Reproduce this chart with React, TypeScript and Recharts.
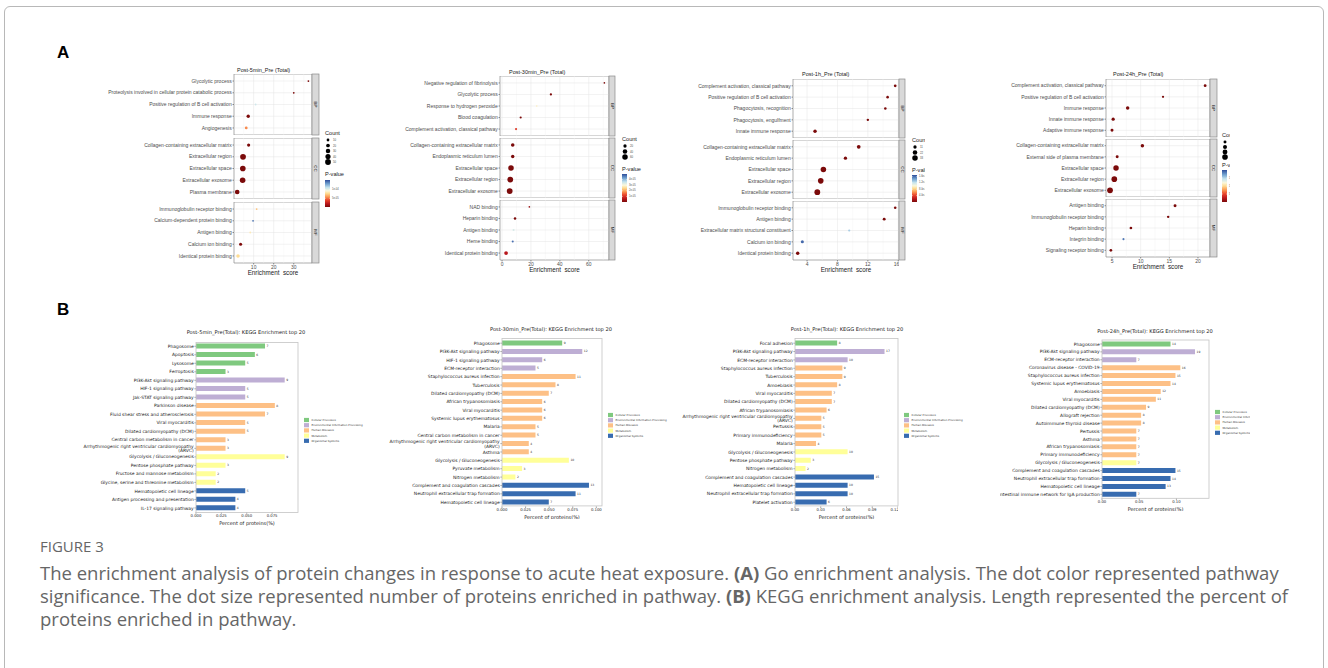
import React from "react";
import {
  ScatterChart,
  Scatter,
  XAxis,
  YAxis,
  ZAxis,
  Cell,
  ReferenceLine,
  ReferenceArea,
  BarChart,
  Bar,
  LabelList,
} from "recharts";

const GO_FONT = '"Liberation Sans", Arial, sans-serif';
const MPL_FONT = '"DejaVu Sans", sans-serif';
const CAPTION_FONT = '"Open Sans", "Noto Sans", sans-serif';

const FACETS = ["BP", "CC", "MF"];

// ---------- GO enrichment (panel A): 5 terms per facet, BP / CC / MF ----------

const go5minTerms = [
  "Glycolytic process",
  "Proteolysis involved in cellular protein catabolic process",
  "Positive regulation of B cell activation",
  "Immune response",
  "Angiogenesis",
  "Collagen-containing extracellular matrix",
  "Extracellular region",
  "Extracellular space",
  "Extracellular exosome",
  "Plasma membrane",
  "Immunoglobulin receptor binding",
  "Calcium-dependent protein binding",
  "Antigen binding",
  "Calcium ion binding",
  "Identical protein binding",
];
const go5minScore = [37.3, 30.0, 11.0, 7.3, 6.3, 7.5, 4.7, 4.6, 4.5, 1.8, 11.5, 9.7, 8.3, 3.5, 2.2];
const go5minCount = [3, 3, 3, 16, 10, 14, 50, 48, 47, 32, 3, 3, 3, 13, 17];
const go5minP = [1e-6, 1e-6, 1.08e-4, 1e-6, 5.5e-5, 1e-7, 1e-7, 1e-7, 1e-7, 1e-7, 7e-5, 1.44e-4, 8.5e-5, 1e-6, 7.8e-5];

const go30minTerms = [
  "Negative regulation of fibrinolysis",
  "Glycolytic process",
  "Response to hydrogen peroxide",
  "Blood coagulation",
  "Complement activation, classical pathway",
  "Collagen-containing extracellular matrix",
  "Endoplasmic reticulum lumen",
  "Extracellular space",
  "Extracellular region",
  "Extracellular exosome",
  "NAD binding",
  "Heparin binding",
  "Antigen binding",
  "Heme binding",
  "Identical protein binding",
];
const go30minScore = [70.8, 33.8, 24.0, 12.9, 9.7, 7.4, 7.4, 6.2, 5.7, 5.3, 18.9, 9.0, 8.0, 7.4, 2.8];
const go30minCount = [3, 8, 3, 7, 7, 24, 22, 62, 65, 66, 3, 11, 6, 6, 26];
const go30minP = [1e-7, 1e-7, 2.8e-5, 1e-7, 1.1e-5, 1e-9, 1e-9, 1e-9, 1e-9, 1e-9, 3e-6, 1e-7, 3.4e-5, 4.7e-5, 6e-6];

const go1hTerms = [
  "Complement activation, classical pathway",
  "Positive regulation of B cell activation",
  "Phagocytosis, recognition",
  "Phagocytosis, engulfment",
  "Innate immune response",
  "Collagen-containing extracellular matrix",
  "Endoplasmic reticulum lumen",
  "Extracellular space",
  "Extracellular region",
  "Extracellular exosome",
  "Immunoglobulin receptor binding",
  "Antigen binding",
  "Extracellular matrix structural constituent",
  "Calcium ion binding",
  "Identical protein binding",
];
const go1hScore = [15.6, 14.6, 14.3, 12.0, 5.05, 10.8, 9.05, 6.15, 5.8, 5.35, 15.6, 14.15, 9.55, 3.38, 2.77];
const go1hCount = [7, 6, 6, 5, 12, 14, 11, 33, 34, 36, 6, 8, 4, 9, 12];
const go1hP = [1e-7, 1e-7, 1e-7, 1e-7, 1e-7, 1e-9, 1e-9, 1e-9, 1e-9, 1e-9, 1e-7, 1e-7, 1.3e-4, 1.62e-4, 1e-7];

const go24hTerms = [
  "Complement activation, classical pathway",
  "Positive regulation of B cell activation",
  "Immune response",
  "Innate immune response",
  "Adaptive immune response",
  "Collagen-containing extracellular matrix",
  "External side of plasma membrane",
  "Extracellular space",
  "Extracellular region",
  "Extracellular exosome",
  "Antigen binding",
  "Immunoglobulin receptor binding",
  "Heparin binding",
  "Integrin binding",
  "Signaling receptor binding",
];
const go24hScore = [21.25, 13.9, 7.73, 5.2, 5.0, 10.3, 5.9, 5.7, 5.4, 4.65, 16.0, 14.8, 8.3, 7.0, 4.8];
const go24hCount = [9, 5, 14, 12, 10, 14, 10, 38, 40, 42, 10, 6, 8, 4, 8];
const go24hP = [1e-7, 1e-7, 1e-7, 1e-7, 1e-7, 1e-9, 1e-9, 1e-9, 1e-9, 1e-9, 1e-7, 1e-7, 1e-7, 1.85e-4, 1e-7];

// ---------- KEGG top 20 (panel B) ----------
// group: 0 Cellular Processes, 1 Environmental Information Processing,
// 2 Human Diseases, 3 Metabolism, 4 Organismal Systems
const GROUP_NAMES = [
  "Cellular Processes",
  "Environmental Information Processing",
  "Human Diseases",
  "Metabolism",
  "Organismal Systems",
];
const GROUP_COLORS = ["#7fc97f", "#beaed4", "#fdc086", "#ffff99", "#386cb0"];

const ARVC = "Arrhythmogenic right ventricular cardiomyopathy\n(ARVC)";

const kegg5minNames = [
  "Phagosome",
  "Apoptosis",
  "Lysosome",
  "Ferroptosis",
  "PI3K-Akt signaling pathway",
  "HIF-1 signaling pathway",
  "Jak-STAT signaling pathway",
  "Parkinson disease",
  "Fluid shear stress and atherosclerosis",
  "Viral myocarditis",
  "Dilated cardiomyopathy (DCM)",
  "Central carbon metabolism in cancer",
  ARVC,
  "Glycolysis / Gluconeogenesis",
  "Pentose phosphate pathway",
  "Fructose and mannose metabolism",
  "Glycine, serine and threonine metabolism",
  "Hematopoietic cell lineage",
  "Antigen processing and presentation",
  "IL-17 signaling pathway",
];
const kegg5minValues = [0.068, 0.058, 0.0485, 0.0291, 0.0874, 0.0485, 0.0485, 0.0777, 0.068, 0.0485, 0.0485, 0.0291, 0.0291, 0.0874, 0.0291, 0.0194, 0.0194, 0.0485, 0.0388, 0.0388];
const kegg5minCounts = [7, 6, 5, 3, 9, 5, 5, 8, 7, 5, 5, 3, 3, 9, 3, 2, 2, 5, 4, 4];
const kegg5minGroups = [0, 0, 0, 0, 1, 1, 1, 2, 2, 2, 2, 2, 2, 3, 3, 3, 3, 4, 4, 4];

const kegg30minNames = [
  "Phagosome",
  "PI3K-Akt signaling pathway",
  "HIF-1 signaling pathway",
  "ECM-receptor interaction",
  "Staphylococcus aureus infection",
  "Tuberculosis",
  "Dilated cardiomyopathy (DCM)",
  "African trypanosomiasis",
  "Viral myocarditis",
  "Systemic lupus erythematosus",
  "Malaria",
  "Central carbon metabolism in cancer",
  ARVC,
  "Asthma",
  "Glycolysis / Gluconeogenesis",
  "Pyruvate metabolism",
  "Nitrogen metabolism",
  "Complement and coagulation cascades",
  "Neutrophil extracellular trap formation",
  "Hematopoietic cell lineage",
];
const kegg30minValues = [0.0638, 0.0851, 0.0426, 0.0355, 0.078, 0.0567, 0.0496, 0.0426, 0.0426, 0.0426, 0.0355, 0.0355, 0.0284, 0.0284, 0.0709, 0.0213, 0.0142, 0.0922, 0.078, 0.0496];
const kegg30minCounts = [9, 12, 6, 5, 11, 8, 7, 6, 6, 6, 5, 5, 4, 4, 10, 3, 2, 13, 11, 7];
const kegg30minGroups = [0, 1, 1, 1, 2, 2, 2, 2, 2, 2, 2, 2, 2, 2, 3, 3, 3, 4, 4, 4];

const kegg1hNames = [
  "Focal adhesion",
  "PI3K-Akt signaling pathway",
  "ECM-receptor interaction",
  "Staphylococcus aureus infection",
  "Tuberculosis",
  "Amoebiasis",
  "Viral myocarditis",
  "Dilated cardiomyopathy (DCM)",
  "African trypanosomiasis",
  ARVC,
  "Pertussis",
  "Primary immunodeficiency",
  "Malaria",
  "Glycolysis / Gluconeogenesis",
  "Pentose phosphate pathway",
  "Nitrogen metabolism",
  "Complement and coagulation cascades",
  "Hematopoietic cell lineage",
  "Neutrophil extracellular trap formation",
  "Platelet activation",
];
const kegg1hValues = [0.0491, 0.1043, 0.0613, 0.0552, 0.0552, 0.0491, 0.0429, 0.0429, 0.0368, 0.0307, 0.0307, 0.0307, 0.0245, 0.0613, 0.0184, 0.0123, 0.092, 0.0613, 0.0613, 0.0368];
const kegg1hCounts = [8, 17, 10, 9, 9, 8, 7, 7, 6, 5, 5, 5, 4, 10, 3, 2, 15, 10, 10, 6];
const kegg1hGroups = [0, 1, 1, 2, 2, 2, 2, 2, 2, 2, 2, 2, 2, 3, 3, 3, 4, 4, 4, 4];

const kegg24hNames = [
  "Phagosome",
  "PI3K-Akt signaling pathway",
  "ECM-receptor interaction",
  "Coronavirus disease - COVID-19",
  "Staphylococcus aureus infection",
  "Systemic lupus erythematosus",
  "Amoebiasis",
  "Viral myocarditis",
  "Dilated cardiomyopathy (DCM)",
  "Allograft rejection",
  "Autoimmune thyroid disease",
  "Pertussis",
  "Asthma",
  "African trypanosomiasis",
  "Primary immunodeficiency",
  "Glycolysis / Gluconeogenesis",
  "Complement and coagulation cascades",
  "Neutrophil extracellular trap formation",
  "Hematopoietic cell lineage",
  "Intestinal immune network for IgA production",
];
const kegg24hValues = [0.0921, 0.125, 0.0461, 0.1053, 0.0987, 0.0921, 0.0789, 0.0724, 0.0592, 0.0526, 0.0526, 0.0461, 0.0461, 0.0461, 0.0461, 0.0461, 0.0987, 0.0921, 0.0855, 0.0461];
const kegg24hCounts = [14, 19, 7, 16, 15, 14, 12, 11, 9, 8, 8, 7, 7, 7, 7, 7, 15, 14, 13, 7];
const kegg24hGroups = [0, 1, 1, 2, 2, 2, 2, 2, 2, 2, 2, 2, 2, 2, 2, 3, 4, 4, 4, 4];

// ---------- colour scale for p-value (low p = dark red, high p = blue) ----------
const P_STOPS: [number, string][] = [
  [0, "#7b0a0a"],
  [0.12, "#b8161c"],
  [0.25, "#e9432b"],
  [0.38, "#fb9b55"],
  [0.5, "#fedc92"],
  [0.6, "#fbf8dc"],
  [0.72, "#c4e3ee"],
  [0.86, "#6f9fce"],
  [1, "#2e4d9a"],
];

function hexToRgb(h: string) {
  return [1, 3, 5].map((i) => parseInt(h.slice(i, i + 2), 16));
}

function pColor(p: number, pMax: number) {
  const t = Math.max(0, Math.min(1, p / pMax));
  for (let i = 1; i < P_STOPS.length; i++) {
    const [t1, c1] = P_STOPS[i];
    if (t <= t1) {
      const [t0, c0] = P_STOPS[i - 1];
      const k = (t - t0) / (t1 - t0);
      const a = hexToRgb(c0);
      const b = hexToRgb(c1);
      const m = a.map((v, j) => Math.round(v + (b[j] - v) * k));
      return `rgb(${m[0]},${m[1]},${m[2]})`;
    }
  }
  return P_STOPS[P_STOPS.length - 1][1];
}

const SIZE_RANGE: [number, number] = [1, 26];

type GoCfg = {
  id: string;
  title: string;
  terms: string[];
  score: number[];
  count: number[];
  pval: number[];
  clipX: number;
  clipW: number;
  plotLeft: number;
  plotRight: number;
  stripW: number;
  tops: number[];
  facetH: number;
  domain: [number, number];
  ticks: number[];
  titleX: number;
  titleY: number;
  legendX: number;
  countY: number;
  countStep: number;
  countKeys: number[];
  countMax: number;
  pY: number;
  gradTop: number;
  gradH: number;
  pMax: number;
  pTicks: number[];
  pLabels: string[];
};

const GO_TOP = 60;
const GO_H = 225;

const goPanels: GoCfg[] = [
  {
    id: "a1", title: "Post-5min_Pre (Total)",
    terms: go5minTerms, score: go5minScore, count: go5minCount, pval: go5minP,
    clipX: 90, clipW: 310, plotLeft: 234, plotRight: 312, stripW: 7,
    tops: [74, 138, 202], facetH: 61, domain: [0.2, 39.1], ticks: [10, 20, 30],
    titleX: 237, titleY: 72, legendX: 325, countY: 133, countStep: 5.5, countKeys: [10, 20, 30, 40, 50], countMax: 50,
    pY: 174, gradTop: 180, gradH: 27, pMax: 1.55e-4, pTicks: [1e-4, 5e-5], pLabels: ["1e-04", "5e-05"],
  },
  {
    id: "a2", title: "Post-30min_Pre (Total)",
    terms: go30minTerms, score: go30minScore, count: go30minCount, pval: go30minP,
    clipX: 400, clipW: 265, plotLeft: 500, plotRight: 609, stripW: 6,
    tops: [76, 138, 200], facetH: 60, domain: [-1.4, 74], ticks: [0, 20, 40, 60],
    titleX: 509, titleY: 74, legendX: 622, countY: 139, countStep: 5.5, countKeys: [20, 40, 60], countMax: 66,
    pY: 169, gradTop: 174, gradH: 28, pMax: 5e-5, pTicks: [4e-5, 3e-5, 2e-5, 1e-5],
    pLabels: ["4e-05", "3e-05", "2e-05", "1e-05"],
  },
  {
    id: "a3", title: "Post-1h_Pre (Total)",
    terms: go1hTerms, score: go1hScore, count: go1hCount, pval: go1hP,
    clipX: 670, clipW: 255, plotLeft: 793, plotRight: 899, stripW: 6,
    tops: [79, 140, 201], facetH: 59, domain: [2.15, 16.1], ticks: [4, 8, 12, 16],
    titleX: 802, titleY: 76, legendX: 912, countY: 140, countStep: 5.5, countKeys: [11, 22, 33], countMax: 36,
    pY: 170, gradTop: 175, gradH: 27, pMax: 1.7e-4, pTicks: [1.6e-4, 1.2e-4, 8e-5, 4e-5],
    pLabels: ["1.6e-04", "1.2e-04", "8.0e-05", "4.0e-05"],
  },
  {
    id: "a4", title: "Post-24h_Pre (Total)",
    terms: go24hTerms, score: go24hScore, count: go24hCount, pval: go24hP,
    clipX: 975, clipW: 255, plotLeft: 1106, plotRight: 1210, stripW: 7,
    tops: [79, 139, 199], facetH: 58, domain: [3.95, 22.1], ticks: [5, 10, 15, 20],
    titleX: 1113, titleY: 76, legendX: 1222, countY: 135, countStep: 5, countKeys: [10, 20, 30, 40], countMax: 42,
    pY: 165, gradTop: 170, gradH: 32, pMax: 2e-4, pTicks: [1.5e-4, 1e-4, 5e-5],
    pLabels: ["1.5e-04", "1.0e-04", "5.0e-05"],
  },
];

function GoFacet({ cfg, f }: { cfg: GoCfg; f: number }) {
  const rows = [0, 1, 2, 3, 4].map((i) => ({
    x: cfg.score[f * 5 + i],
    y: i + 1,
    count: cfg.count[f * 5 + i],
    p: cfg.pval[f * 5 + i],
  }));
  const last = f === 2;
  const axisH = last ? 12 : 0;
  const [d0, d1] = cfg.domain;
  const step = cfg.ticks[1] - cfg.ticks[0];
  const minor: number[] = [];
  for (let v = cfg.ticks[0] - step / 2; v < d1; v += step) if (v > d0) minor.push(v);
  if (cfg.ticks[0] - step / 2 - step > d0) minor.push(cfg.ticks[0] - step * 1.5);

  return (
    <div style={{ position: "absolute", left: 0, top: cfg.tops[f] - GO_TOP }}>
      <ScatterChart
        width={cfg.plotRight - cfg.clipX}
        height={cfg.facetH + axisH}
        margin={{ top: 0, right: 0, bottom: 0, left: 0 }}
      >
        <XAxis
          type="number"
          dataKey="x"
          domain={cfg.domain}
          ticks={cfg.ticks}
          hide={!last}
          height={axisH}
          axisLine={false}
          tickSize={1.5}
          tickMargin={0.5}
          tickLine={{ stroke: "#333", strokeWidth: 0.5 }}
          tick={{ fontSize: 5, fill: "#4d4d4d", fontFamily: GO_FONT }}
          allowDataOverflow
          label={
            last
              ? { value: "Enrichment_score", position: "insideBottom", offset: 0, fontSize: 6.3, fill: "#1a1a1a", fontFamily: GO_FONT }
              : undefined
          }
        />
        <YAxis
          type="number"
          dataKey="y"
          domain={[0.4, 5.6]}
          ticks={[1, 2, 3, 4, 5]}
          reversed
          interval={0}
          width={cfg.plotLeft - cfg.clipX}
          axisLine={false}
          tickSize={1.5}
          tickMargin={0.8}
          tickLine={{ stroke: "#333", strokeWidth: 0.5 }}
          allowDataOverflow
          tick={(p: any) => (
            <text
              x={p.x}
              y={p.y}
              dy={1.7}
              textAnchor="end"
              fontSize={5}
              fill="#4d4d4d"
              fontFamily={GO_FONT}
            >
              {cfg.terms[f * 5 + Number(p.payload.value) - 1]}
            </text>
          )}
        />
        <ZAxis type="number" dataKey="count" domain={[0, cfg.countMax]} range={SIZE_RANGE} />
        {minor.map((v) => (
          <ReferenceLine key={"m" + v} x={v} stroke="#f2f2f2" strokeWidth={0.4} />
        ))}
        {cfg.ticks.map((v) => (
          <ReferenceLine key={"t" + v} x={v} stroke="#e4e4e4" strokeWidth={0.5} />
        ))}
        {[1, 2, 3, 4, 5].map((v) => (
          <ReferenceLine key={"y" + v} y={v} stroke="#e4e4e4" strokeWidth={0.5} />
        ))}
        <ReferenceArea x1={d0} x2={d1} y1={0.4} y2={5.6} fill="none" stroke="#8a8a8a" strokeWidth={0.7} />
        <Scatter data={rows} isAnimationActive={false}>
          {rows.map((r, i) => (
            <Cell key={i} fill={pColor(r.p, cfg.pMax)} />
          ))}
        </Scatter>
      </ScatterChart>
    </div>
  );
}

function GoOverlay({ cfg }: { cfg: GoCfg }) {
  const gid = "pgrad-" + cfg.id;
  const rad = (c: number) => Math.sqrt((SIZE_RANGE[0] + (SIZE_RANGE[1] - SIZE_RANGE[0]) * (c / cfg.countMax)) / Math.PI);
  return (
    <svg
      width={cfg.clipW}
      height={GO_H}
      style={{ position: "absolute", left: 0, top: 0, pointerEvents: "none" }}
    >
      <defs>
        <linearGradient id={gid} x1="0" y1="1" x2="0" y2="0">
          {P_STOPS.map(([o, c]) => (
            <stop key={o} offset={o} stopColor={c} />
          ))}
        </linearGradient>
      </defs>
      <g transform={`translate(${-cfg.clipX},${-GO_TOP})`} fontFamily={GO_FONT}>
        <text x={cfg.titleX} y={cfg.titleY} fontSize={5.5} fill="#1a1a1a">
          {cfg.title}
        </text>
        {FACETS.map((name, f) => {
          const cx = cfg.plotRight + cfg.stripW / 2;
          const cy = cfg.tops[f] + cfg.facetH / 2;
          return (
            <g key={name}>
              <rect x={cfg.plotRight} y={cfg.tops[f]} width={cfg.stripW} height={cfg.facetH} fill="#d9d9d9" stroke="#8a8a8a" strokeWidth={0.7} />
              <text
                x={cx}
                y={cy}
                transform={`rotate(90 ${cx} ${cy})`}
                textAnchor="middle"
                dominantBaseline="central"
                fontSize={4.4}
                fill="#1a1a1a"
              >
                {name}
              </text>
            </g>
          );
        })}
        <text x={cfg.legendX} y={cfg.countY} dominantBaseline="central" fontSize={5.6} fill="#1a1a1a">
          Count
        </text>
        {cfg.countKeys.map((c, i) => {
          const y = cfg.countY + 7 + i * cfg.countStep;
          return (
            <g key={c}>
              <circle cx={cfg.legendX + 3} cy={y} r={rad(c)} fill="#000" />
              <text x={cfg.legendX + 8} y={y} dominantBaseline="central" fontSize={2.8} fill="#4d4d4d">
                {c}
              </text>
            </g>
          );
        })}
        <text x={cfg.legendX} y={cfg.pY} dominantBaseline="central" fontSize={5.6} fill="#1a1a1a">
          P-value
        </text>
        <rect x={cfg.legendX} y={cfg.gradTop} width={5} height={cfg.gradH} fill={`url(#${gid})`} />
        {cfg.pTicks.map((v, i) => {
          const y = cfg.gradTop + cfg.gradH * (1 - v / cfg.pMax);
          return (
            <g key={v}>
              <line x1={cfg.legendX} x2={cfg.legendX + 1} y1={y} y2={y} stroke="#fff" strokeWidth={0.4} />
              <line x1={cfg.legendX + 4} x2={cfg.legendX + 5} y1={y} y2={y} stroke="#fff" strokeWidth={0.4} />
              <text x={cfg.legendX + 7} y={y} dominantBaseline="central" fontSize={2.6} fill="#4d4d4d">
                {cfg.pLabels[i]}
              </text>
            </g>
          );
        })}
      </g>
    </svg>
  );
}

function GoPanel({ cfg }: { cfg: GoCfg }) {
  return (
    <div
      style={{
        position: "absolute",
        left: cfg.clipX,
        top: GO_TOP,
        width: cfg.clipW,
        height: GO_H,
        overflow: "hidden",
      }}
    >
      {FACETS.map((name, f) => (
        <GoFacet key={name} cfg={cfg} f={f} />
      ))}
      <GoOverlay cfg={cfg} />
    </div>
  );
}

type KeggCfg = {
  id: string;
  title: string;
  names: string[];
  values: number[];
  counts: number[];
  groups: number[];
  clipX: number;
  clipW: number;
  boxLeft: number;
  boxRight: number;
  boxTop: number;
  boxBottom: number;
  xMax: number;
  ticks: number[];
  decimals: number;
  titleX: number;
  titleY: number;
  legendX: number;
  legendY: number;
};

const KEGG_TOP = 320;
const KEGG_H = 215;

const keggPanels: KeggCfg[] = [
  {
    id: "b1", title: "Post-5min_Pre(Total): KEGG Enrichment top 20",
    names: kegg5minNames, values: kegg5minValues, counts: kegg5minCounts, groups: kegg5minGroups,
    clipX: 80, clipW: 308, boxLeft: 196, boxRight: 298, boxTop: 342.4, boxBottom: 512.6,
    xMax: 0.1005, ticks: [0, 0.025, 0.05, 0.075], decimals: 3,
    titleX: 246, titleY: 334, legendX: 304, legendY: 420,
  },
  {
    id: "b2", title: "Post-30min_Pre(Total): KEGG Enrichment top 20",
    names: kegg30minNames, values: kegg30minValues, counts: kegg30minCounts, groups: kegg30minGroups,
    clipX: 388, clipW: 280, boxLeft: 502, boxRight: 602, boxTop: 338.5, boxBottom: 505.9,
    xMax: 0.106, ticks: [0, 0.025, 0.05, 0.075, 0.1], decimals: 3,
    titleX: 551, titleY: 331, legendX: 608, legendY: 415,
  },
  {
    id: "b3", title: "Post-1h_Pre(Total): KEGG Enrichment top 20",
    names: kegg1hNames, values: kegg1hValues, counts: kegg1hCounts, groups: kegg1hGroups,
    clipX: 680, clipW: 285, boxLeft: 795, boxRight: 898, boxTop: 338.5, boxBottom: 505.9,
    xMax: 0.12, ticks: [0, 0.03, 0.06, 0.09, 0.12], decimals: 2,
    titleX: 847, titleY: 331, legendX: 904, legendY: 415,
  },
  {
    id: "b4", title: "Post-24h_Pre(Total): KEGG Enrichment top 20",
    names: kegg24hNames, values: kegg24hValues, counts: kegg24hCounts, groups: kegg24hGroups,
    clipX: 1000, clipW: 250, boxLeft: 1102, boxRight: 1209, boxTop: 340, boxBottom: 498.3,
    xMax: 0.1438, ticks: [0, 0.05, 0.1], decimals: 2,
    titleX: 1155, titleY: 333, legendX: 1215, legendY: 412,
  },
];

const keggTick = (p: any) => {
  const lines = String(p.payload.value).split("\n");
  const lh = 4.6;
  const y0 = p.y - ((lines.length - 1) * lh) / 2;
  return (
    <text x={p.x} y={y0} textAnchor="end" fontSize={4.45} fontFamily={MPL_FONT} fill="#222">
      {lines.map((l, i) => (
        <tspan key={i} x={p.x} y={y0 + i * lh} dy={1.6}>
          {l}
        </tspan>
      ))}
    </text>
  );
};

function KeggPanel({ cfg }: { cfg: KeggCfg }) {
  const rows = cfg.names.map((name, i) => ({
    name,
    value: cfg.values[i],
    count: cfg.counts[i],
    g: cfg.groups[i],
  }));
  const axisH = 13;
  const boxH = cfg.boxBottom - cfg.boxTop;
  return (
    <div
      style={{
        position: "absolute",
        left: cfg.clipX,
        top: KEGG_TOP,
        width: cfg.clipW,
        height: KEGG_H,
        overflow: "hidden",
      }}
    >
      <div style={{ position: "absolute", left: 0, top: cfg.boxTop - KEGG_TOP }}>
        <BarChart
          layout="vertical"
          width={cfg.boxRight - cfg.clipX}
          height={boxH + axisH}
          data={rows}
          margin={{ top: 0, right: 0, bottom: 0, left: 0 }}
          barCategoryGap="18%"
        >
          <XAxis
            type="number"
            domain={[0, cfg.xMax]}
            ticks={cfg.ticks}
            tickFormatter={(v: number) => v.toFixed(cfg.decimals)}
            height={axisH}
            axisLine={false}
            tickSize={1.5}
            tickMargin={0.5}
            tickLine={{ stroke: "#333", strokeWidth: 0.5 }}
            tick={{ fontSize: 3.8, fill: "#222", fontFamily: MPL_FONT }}
            allowDataOverflow
            label={{
              value: "Percent of proteins(%)",
              position: "insideBottom",
              offset: 0,
              fontSize: 5,
              fill: "#222",
              fontFamily: MPL_FONT,
            }}
          />
          <YAxis
            type="category"
            dataKey="name"
            width={cfg.boxLeft - cfg.clipX}
            interval={0}
            axisLine={false}
            tickSize={1.5}
            tickMargin={0.8}
            tickLine={{ stroke: "#333", strokeWidth: 0.5 }}
            tick={keggTick}
          />
          <Bar dataKey="value" isAnimationActive={false}>
            {rows.map((r, i) => (
              <Cell key={i} fill={GROUP_COLORS[r.g]} />
            ))}
            <LabelList dataKey="count" position="right" offset={1.5} fontSize={3} fill="#333" fontFamily={MPL_FONT} />
          </Bar>
        </BarChart>
      </div>
      <svg
        width={cfg.clipW}
        height={KEGG_H}
        style={{ position: "absolute", left: 0, top: 0, pointerEvents: "none" }}
      >
        <g transform={`translate(${-cfg.clipX},${-KEGG_TOP})`} fontFamily={MPL_FONT}>
          <rect
            x={cfg.boxLeft}
            y={cfg.boxTop}
            width={cfg.boxRight - cfg.boxLeft}
            height={boxH}
            fill="none"
            stroke="#c4c4c4"
            strokeWidth={0.8}
          />
          <text x={cfg.titleX} y={cfg.titleY} textAnchor="middle" fontSize={5.1} fill="#222">
            {cfg.title}
          </text>
          {GROUP_NAMES.map((g, i) => {
            const y = cfg.legendY + i * 5.2;
            return (
              <g key={g}>
                <rect x={cfg.legendX} y={y - 2.1} width={5} height={4.2} fill={GROUP_COLORS[i]} />
                <text x={cfg.legendX + 7.5} y={y} dominantBaseline="central" fontSize={2.7} fill="#333">
                  {g}
                </text>
              </g>
            );
          })}
        </g>
      </svg>
    </div>
  );
}

export default function App() {
  return (
    <div
      style={{
        position: "absolute",
        left: 0,
        top: 0,
        width: 1328,
        height: 668,
        background: "#fff",
        overflow: "hidden",
      }}
    >
      <div
        style={{
          position: "absolute",
          left: 4,
          top: 6,
          width: 1318,
          height: 700,
          border: "1px solid #b8b8b8",
          borderRadius: 6,
        }}
      />
      <div style={{ position: "absolute", left: 57, top: 44, fontFamily: GO_FONT, fontWeight: 700, fontSize: 17, lineHeight: 1 }}>
        A
      </div>
      <div style={{ position: "absolute", left: 57, top: 301, fontFamily: GO_FONT, fontWeight: 700, fontSize: 17, lineHeight: 1 }}>
        B
      </div>
      {goPanels.map((cfg) => (
        <GoPanel key={cfg.id} cfg={cfg} />
      ))}
      {keggPanels.map((cfg) => (
        <KeggPanel key={cfg.id} cfg={cfg} />
      ))}
      <div
        style={{
          position: "absolute",
          left: 40,
          top: 539,
          fontFamily: CAPTION_FONT,
          fontSize: 15,
          color: "#666",
          lineHeight: 1,
        }}
      >
        FIGURE 3
      </div>
      <div
        style={{
          position: "absolute",
          left: 40,
          top: 561,
          fontFamily: CAPTION_FONT,
          fontSize: 18.5,
          color: "#666",
          lineHeight: "23px",
          whiteSpace: "nowrap",
        }}
      >
        <div>
          The enrichment analysis of protein changes in response to acute heat exposure. <b>(A)</b> Go enrichment
          analysis. The dot color represented pathway
        </div>
        <div>
          significance. The dot size represented number of proteins enriched in pathway. <b>(B)</b> KEGG enrichment
          analysis. Length represented the percent of
        </div>
        <div>proteins enriched in pathway.</div>
      </div>
    </div>
  );
}
